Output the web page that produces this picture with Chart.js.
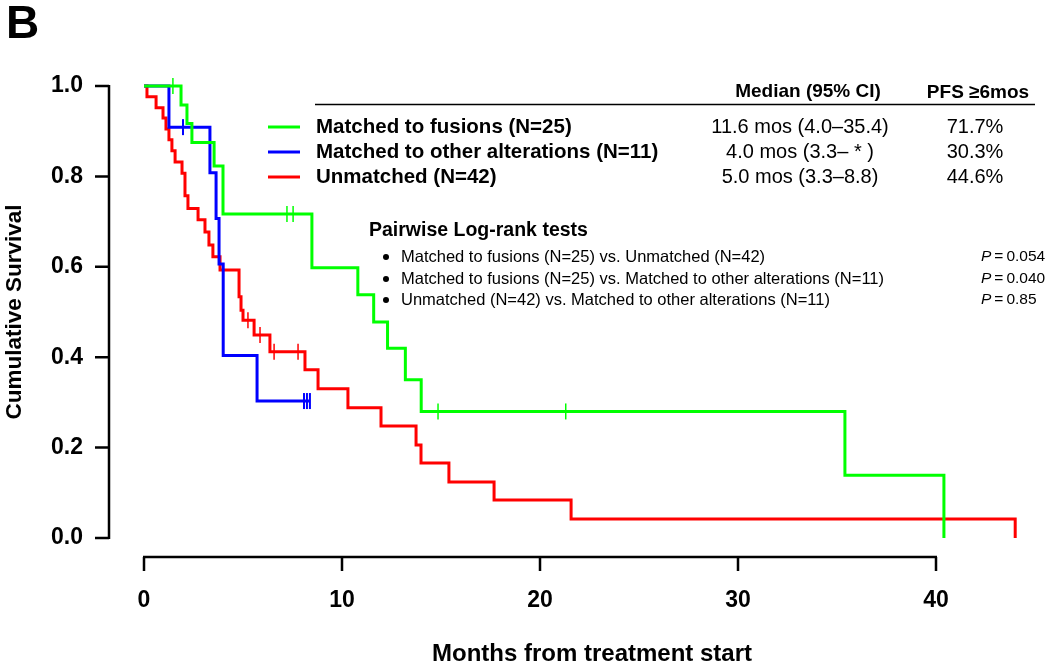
<!DOCTYPE html>
<html>
<head>
<meta charset="utf-8">
<script src="https://cdn.jsdelivr.net/npm/chart.js@4.4.0/dist/chart.umd.min.js"></script>
<style>
  html, body { margin: 0; padding: 0; background: #fff; }
  #wrap { width: 1050px; height: 667px; }
</style>
</head>
<body>
<div id="wrap"><canvas id="km" width="1050" height="667"></canvas></div>
<script>
// Kaplan-Meier steps (months, survival)
const greenT = [0, 1.87, 2.17, 2.42, 3.54, 3.99, 8.48, 10.8, 11.6, 12.3, 13.2, 14.0, 35.4, 40.4];
const greenS = [1, 0.958, 0.917, 0.875, 0.823, 0.717, 0.598, 0.538, 0.478, 0.42, 0.35, 0.28, 0.139, 0];
const greenCens = [1.46, 7.22, 7.53, 14.85, 21.3];

const blueT = [0, 1.26, 3.33, 3.64, 3.79, 4.0, 5.71, 8.38];
const blueS = [1, 0.909, 0.808, 0.707, 0.606, 0.404, 0.303, 0.303];
const blueCens = [1.97, 8.08, 8.23, 8.38];

const redT = [0, 0.15, 0.61, 0.96, 1.11, 1.26, 1.41, 1.57, 1.92, 2.07, 2.22, 2.73, 3.08, 3.28, 3.48, 3.84,
  4.80, 4.90, 5.00, 5.56, 6.36, 8.13, 8.79, 10.30, 11.97, 13.74, 13.99, 15.40, 17.68, 21.57, 44.0];
const redS = [1, 0.976, 0.952, 0.929, 0.905, 0.881, 0.857, 0.832, 0.807, 0.757, 0.729, 0.704, 0.677, 0.648, 0.622, 0.593,
  0.534, 0.504, 0.482, 0.449, 0.412, 0.372, 0.330, 0.288, 0.248, 0.206, 0.166, 0.124, 0.084, 0.042, 0];
const redCens = [5.25, 5.86, 6.57, 7.78];

const xTicks = [0, 10, 20, 30, 40];
const yTicks = [0, 0.2, 0.4, 0.6, 0.8, 1.0];

const groups = ['Matched to fusions (N=25)', 'Matched to other alterations (N=11)', 'Unmatched (N=42)'];
const medians = ['11.6 mos (4.0\u201335.4)', '4.0 mos (3.3\u2013 * )', '5.0 mos (3.3\u20138.8)'];
const pfs6 = ['71.7%', '30.3%', '44.6%'];
const pairs = [
  'Matched to fusions (N=25) vs. Unmatched (N=42)',
  'Matched to fusions (N=25) vs. Matched to other alterations (N=11)',
  'Unmatched (N=42) vs. Matched to other alterations (N=11)'
];
const pvals = ['0.054', '0.040', '0.85'];

const GREEN = '#00ff00', BLUE = '#0000ff', RED = '#ff0000';
const FONT = '"Liberation Sans", Arial, sans-serif';

const pts = (T, S) => T.map((t, i) => ({ x: t, y: S[i] }));
const survAt = (T, S, t) => { let s = S[0]; T.forEach((v, i) => { if (v <= t) s = S[i]; }); return s; };
const cens = (C, T, S) => C.map(t => ({ x: t, y: survAt(T, S, t) }));

const curve = (data, color) => ({
  type: 'line', data, stepped: 'before', borderColor: color, borderWidth: 3,
  pointRadius: 0, fill: false, clip: false
});
const marks = (data, color, w) => ({
  type: 'scatter', data, pointStyle: 'line', rotation: 90, pointRadius: 8,
  borderColor: color, backgroundColor: color, pointBorderWidth: w, borderWidth: w, clip: false
});

function txt(ctx, s, x, y, size, o = {}) {
  ctx.font = `${o.italic ? 'italic ' : ''}${o.bold ? 'bold ' : ''}${size}px ${FONT}`;
  ctx.textAlign = o.align || 'left';
  ctx.textBaseline = 'middle';
  ctx.fillStyle = '#000';
  ctx.fillText(s, x, y);
  return ctx.measureText(s).width;
}

const decor = {
  id: 'decor',
  afterDraw(chart) {
    const ctx = chart.ctx;
    const xs = chart.scales.x, ys = chart.scales.y;
    ctx.save();
    ctx.strokeStyle = '#000';
    ctx.lineWidth = 2.5;
    ctx.lineCap = 'butt';

    // y axis, offset to the left
    const ax = 109;
    ctx.beginPath();
    ctx.moveTo(ax, ys.getPixelForValue(1) - 1);
    ctx.lineTo(ax, ys.getPixelForValue(0) + 1);
    yTicks.forEach(v => {
      const py = ys.getPixelForValue(v);
      ctx.moveTo(ax, py); ctx.lineTo(95, py);
    });
    ctx.stroke();
    yTicks.forEach(v => txt(ctx, v.toFixed(1), 83, ys.getPixelForValue(v), 23, { bold: true, align: 'right' }));

    // x axis, offset below
    const ay = 557;
    ctx.beginPath();
    ctx.moveTo(xs.getPixelForValue(0) - 1, ay);
    ctx.lineTo(xs.getPixelForValue(40) + 1, ay);
    xTicks.forEach(v => {
      const px = xs.getPixelForValue(v);
      ctx.moveTo(px, ay); ctx.lineTo(px, 571);
    });
    ctx.stroke();
    xTicks.forEach(v => txt(ctx, String(v), xs.getPixelForValue(v), 601, 23, { bold: true, align: 'center' }));

    // axis titles
    txt(ctx, 'Months from treatment start', 592, 654, 24, { bold: true, align: 'center' });
    ctx.save();
    ctx.translate(15, 312);
    ctx.rotate(-Math.PI / 2);
    txt(ctx, 'Cumulative Survival', 0, 0, 22.5, { bold: true, align: 'center' });
    ctx.restore();

    // panel letter
    ctx.font = `bold 46px ${FONT}`;
    ctx.textAlign = 'left'; ctx.textBaseline = 'alphabetic';
    ctx.fillText('B', 6, 38);

    // legend table
    txt(ctx, 'Median (95% CI)', 808, 92, 19, { bold: true, align: 'center' });
    txt(ctx, 'PFS \u22656mos', 978, 93, 19, { bold: true, align: 'center' });
    ctx.lineWidth = 1.5;
    ctx.beginPath(); ctx.moveTo(315, 104.5); ctx.lineTo(1035, 104.5); ctx.stroke();
    const rowY = [127, 152, 177];
    [GREEN, BLUE, RED].forEach((c, i) => {
      ctx.strokeStyle = c; ctx.lineWidth = 3;
      ctx.beginPath(); ctx.moveTo(268, rowY[i]); ctx.lineTo(300, rowY[i]); ctx.stroke();
      txt(ctx, groups[i], 316, rowY[i], 20.5, { bold: true });
      txt(ctx, medians[i], 800, rowY[i], 20, { align: 'center' });
      txt(ctx, pfs6[i], 975, rowY[i], 20, { align: 'center' });
    });

    // pairwise tests
    txt(ctx, 'Pairwise Log-rank tests', 369, 231, 19.5, { bold: true });
    const pY = [257, 279, 300];
    pairs.forEach((s, i) => {
      ctx.fillStyle = '#000';
      ctx.beginPath(); ctx.arc(386, pY[i], 3, 0, Math.PI * 2); ctx.fill();
      txt(ctx, s, 401, pY[i], 16.5);
      let x = 981;
      x += txt(ctx, 'P', x, pY[i], 15.5, { italic: true }) + 3;
      x += txt(ctx, '=', x, pY[i], 15.5) + 3;
      txt(ctx, pvals[i], x, pY[i], 15.5);
    });
    ctx.restore();
  }
};

new Chart(document.getElementById('km'), {
  data: {
    datasets: [
      curve(pts(greenT, greenS), GREEN),
      curve(pts(blueT, blueS), BLUE),
      curve(pts(redT, redS), RED),
      marks(cens(greenCens, greenT, greenS), GREEN, 1.5),
      marks(cens(blueCens, blueT, blueS), BLUE, 2),
      marks(cens(redCens, redT, redS), RED, 1.5)
    ]
  },
  options: {
    responsive: false,
    animation: false,
    devicePixelRatio: 1,
    layout: { padding: { left: 144, right: 15, top: 86, bottom: 129 } },
    plugins: { legend: { display: false }, tooltip: { enabled: false }, title: { display: false } },
    scales: {
      x: { type: 'linear', min: 0, max: 45, display: false },
      y: { type: 'linear', min: 0, max: 1, display: false }
    }
  },
  plugins: [decor]
});
</script>
</body>
</html>
